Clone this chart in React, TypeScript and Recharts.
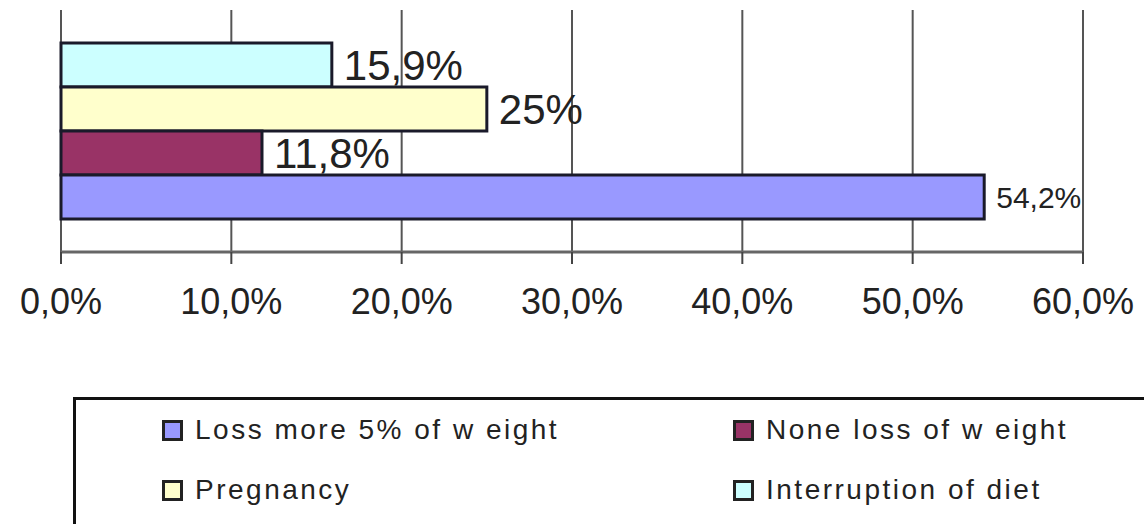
import { BarChart, Bar, XAxis, YAxis, CartesianGrid, LabelList } from 'recharts';

const categories = ['Reason'];
const seriesKeys = ['interruption', 'pregnancy', 'none', 'loss'];
const seriesNames = ['Interruption of diet', 'Pregnancy', 'None loss of w eight', 'Loss more 5% of w eight'];
const seriesValues = [15.9, 25, 11.8, 54.2];
const seriesColors = ['#ccffff', '#ffffcc', '#993366', '#9999ff'];
const xTicks = [0, 10, 20, 30, 40, 50, 60];
// legend reads row by row: Loss, None / Pregnancy, Interruption
const legendOrder = [3, 2, 1, 0];

const font = '"Liberation Sans", Arial, sans-serif';
const labelSizes = [42, 42, 42, 30];

const data = categories.map((name) => {
  const row: Record<string, any> = { name };
  seriesKeys.forEach((k, i) => (row[k] = seriesValues[i]));
  return row;
});

const fmtTick = (v: number) => `${v.toFixed(1).replace('.', ',')}%`;
const fmtValue = (v: any) => `${String(v).replace('.', ',')}%`;

export default function App() {
  return (
    <div style={{ position: 'relative', width: 1144, height: 524, overflow: 'hidden', background: '#fff' }}>
      <style>{'body{margin:0}'}</style>
      <BarChart
        width={1144}
        height={524}
        data={data}
        layout="vertical"
        barSize={44}
        barGap={0}
        margin={{ top: 10, right: 61, left: 61, bottom: 212 }}
      >
        <CartesianGrid horizontal={false} stroke="#555" strokeWidth={2} />
        <XAxis
          type="number"
          domain={[0, 60]}
          ticks={xTicks}
          interval={0}
          tickFormatter={fmtTick}
          height={60}
          tickSize={12}
          tickMargin={24}
          axisLine={{ stroke: '#666', strokeWidth: 3 }}
          tickLine={{ stroke: '#444', strokeWidth: 2 }}
          tick={{ fontSize: 36, fill: '#222', fontFamily: font }}
        />
        <YAxis
          type="category"
          dataKey="name"
          width={0}
          tick={false}
          tickLine={false}
          axisLine={{ stroke: '#333', strokeWidth: 2 }}
        />
        {seriesKeys.map((k, i) => (
          <Bar
            key={k}
            dataKey={k}
            name={seriesNames[i]}
            fill={seriesColors[i]}
            stroke="#1a1a2a"
            strokeWidth={3}
            isAnimationActive={false}
          >
            <LabelList
              dataKey={k}
              position="right"
              offset={12}
              formatter={fmtValue}
              style={{ fontSize: labelSizes[i], fill: '#222', fontFamily: font }}
            />
          </Bar>
        ))}
      </BarChart>
      <div
        style={{
          position: 'absolute',
          left: 73,
          top: 397,
          width: 1100,
          height: 125,
          border: '3px solid #111',
          background: '#fff',
          fontFamily: font,
        }}
      >
        {legendOrder.map((s, idx) => {
          const col = idx % 2;
          const row = Math.floor(idx / 2);
          return (
            <div
              key={seriesKeys[s]}
              style={{
                position: 'absolute',
                left: [86, 657][col],
                top: [16, 76][row],
                height: 28,
                display: 'flex',
                alignItems: 'center',
                fontSize: 28,
                letterSpacing: 2.5,
                color: '#222',
                whiteSpace: 'nowrap',
              }}
            >
              <span
                style={{
                  display: 'inline-block',
                  width: 15,
                  height: 15,
                  background: seriesColors[s],
                  border: '3px solid #222',
                  marginRight: 12,
                }}
              />
              {seriesNames[s]}
            </div>
          );
        })}
      </div>
    </div>
  );
}
